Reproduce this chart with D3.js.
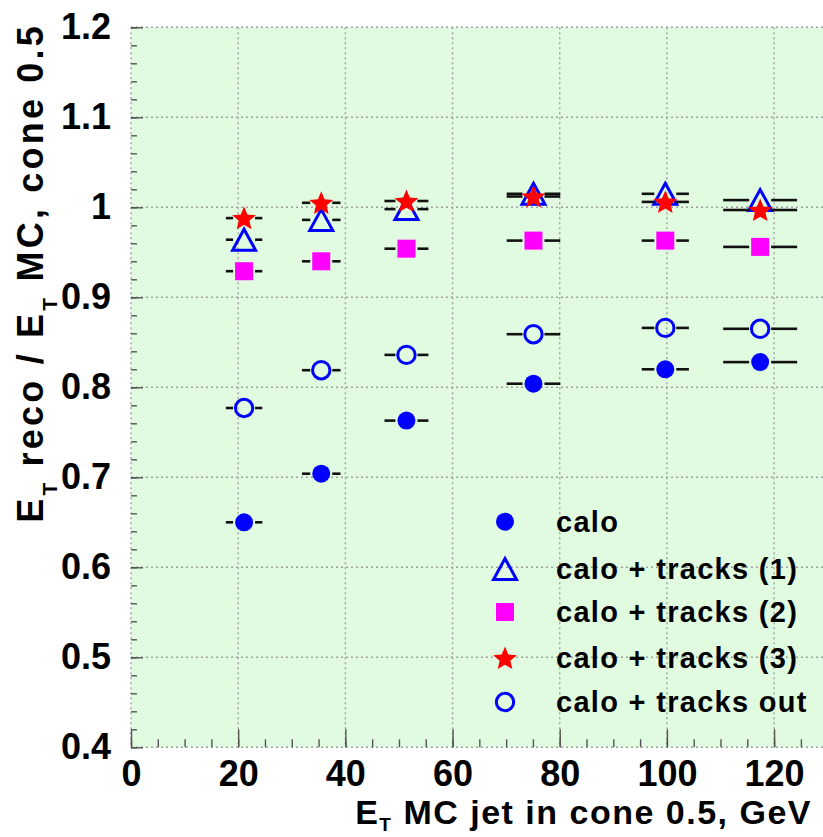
<!DOCTYPE html>
<html>
<head>
<meta charset="utf-8">
<script src="https://cdn.jsdelivr.net/npm/d3@7"></script>
<style>
  body { margin: 0; background: #fff; }
  svg { display: block; font-family: "Liberation Sans", Arial, sans-serif; font-weight: bold; }
</style>
</head>
<body>
<div id="chart"></div>
<script>
// jet energy bins (x centre and half width)
const etMC = [21.1, 35.5, 51.4, 75.1, 99.7, 117.4];
const etErr = [3.4, 3.6, 4.1, 5.0, 4.4, 6.9];

const calo = [0.650, 0.704, 0.763, 0.804, 0.820, 0.828];
const tracks1 = [0.964, 0.986, 0.998, 1.015, 1.015, 1.008];
const tracks2 = [0.929, 0.940, 0.954, 0.963, 0.963, 0.956];
const tracks3 = [0.988, 1.005, 1.007, 1.012, 1.006, 0.997];
const tracksOut = [0.777, 0.819, 0.836, 0.859, 0.866, 0.865];

const xTicks = [0, 20, 40, 60, 80, 100, 120];
const yTicks = [0.4, 0.5, 0.6, 0.7, 0.8, 0.9, 1.0, 1.1, 1.2];

const series = [
  { name: "calo", values: calo, marker: "circle" },
  { name: "calo + tracks (1)", values: tracks1, marker: "triangle" },
  { name: "calo + tracks (2)", values: tracks2, marker: "square" },
  { name: "calo + tracks (3)", values: tracks3, marker: "star" },
  { name: "calo + tracks out", values: tracksOut, marker: "opencircle" },
];

const width = 823, height = 837;
const mLeft = 131, mRight = 825, mTop = 27.3, mBottom = 747.3;

const x = d3.scaleLinear().domain([0, 129.5]).range([mLeft, mRight]);
const y = d3.scaleLinear().domain([0.4, 1.2]).range([mBottom, mTop]);

const svg = d3.select("#chart").append("svg")
  .attr("width", width).attr("height", height);

// plot background
svg.append("rect")
  .attr("x", mLeft).attr("y", mTop)
  .attr("width", mRight - mLeft).attr("height", mBottom - mTop)
  .attr("fill", "#e0fbe0");

// dotted grid + frame
const grid = svg.append("g")
  .attr("stroke", "#a0a0a0").attr("stroke-width", 1.4)
  .attr("stroke-dasharray", "2,3");
grid.selectAll(".gx").data(xTicks).enter().append("line")
  .attr("x1", d => x(d)).attr("x2", d => x(d))
  .attr("y1", mTop).attr("y2", mBottom);
grid.selectAll(".gy").data(yTicks).enter().append("line")
  .attr("x1", mLeft).attr("x2", mRight)
  .attr("y1", d => y(d)).attr("y2", d => y(d));

// minor ticks
const minorY = d3.range(0.4, 1.2001, 0.02);
const minorX = d3.range(0, 126, 5);

svg.append("g")
  .attr("transform", `translate(${mLeft},0)`)
  .call(d3.axisLeft(y).tickValues(minorY).tickSize(-6).tickFormat(""))
  .call(g => g.select(".domain").remove())
  .call(g => g.selectAll("line").attr("stroke", "#555").attr("stroke-width", 1.4));

svg.append("g")
  .attr("transform", `translate(0,${mBottom})`)
  .call(d3.axisBottom(x).tickValues(minorX).tickSize(-8).tickFormat(""))
  .call(g => g.select(".domain").remove())
  .call(g => g.selectAll("line").attr("stroke", "#555").attr("stroke-width", 1.4));

// major ticks + labels
svg.append("g")
  .attr("transform", `translate(${mLeft},0)`)
  .call(d3.axisLeft(y).tickValues(yTicks).tickSize(-12).tickPadding(20)
    .tickFormat(d => Math.abs(d - 1) < 1e-9 ? "1" : d3.format(".1f")(d)))
  .call(g => g.select(".domain").remove())
  .call(g => g.selectAll("line").attr("stroke", "#555").attr("stroke-width", 1.4))
  .call(g => g.selectAll("text").attr("fill", "#000")
    .style("font-size", "36px").style("font-weight", "bold")
    .style("font-family", "'Liberation Sans', Arial, sans-serif"));

svg.append("g")
  .attr("transform", `translate(0,${mBottom})`)
  .call(d3.axisBottom(x).tickValues(xTicks).tickSize(-18).tickPadding(13)
    .tickFormat(d3.format("d")))
  .call(g => g.select(".domain").remove())
  .call(g => g.selectAll("line").attr("stroke", "#555").attr("stroke-width", 1.4))
  .call(g => g.selectAll("text").attr("fill", "#000")
    .style("font-size", "36px").style("font-weight", "bold")
    .style("font-family", "'Liberation Sans', Arial, sans-serif"));

// marker shapes
function starPath(R) {
  const r = R * 0.45;
  const pts = [];
  for (let i = 0; i < 10; i++) {
    const a = -Math.PI / 2 + i * Math.PI / 5;
    const rad = i % 2 === 0 ? R : r;
    pts.push([rad * Math.cos(a), rad * Math.sin(a)]);
  }
  return "M" + pts.map(p => p.join(",")).join("L") + "Z";
}

function drawMarker(g, type, cx, cy) {
  if (type === "circle") {
    g.append("circle").attr("cx", cx).attr("cy", cy).attr("r", 9).attr("fill", "#0000ff");
  } else if (type === "opencircle") {
    g.append("circle").attr("cx", cx).attr("cy", cy).attr("r", 8.7)
      .attr("fill", "none").attr("stroke", "#0000ff").attr("stroke-width", 3);
  } else if (type === "square") {
    g.append("rect").attr("x", cx - 9).attr("y", cy - 9)
      .attr("width", 18).attr("height", 18).attr("fill", "#ff00ff");
  } else if (type === "triangle") {
    g.append("path")
      .attr("d", `M${cx},${cy - 10.5}L${cx + 11.5},${cy + 10.5}L${cx - 11.5},${cy + 10.5}Z`)
      .attr("fill", "none").attr("stroke", "#0000ff").attr("stroke-width", 3)
      .attr("stroke-linejoin", "miter");
  } else if (type === "star") {
    g.append("path").attr("d", starPath(12.5))
      .attr("transform", `translate(${cx},${cy + 1})`)
      .attr("fill", "#ff0000");
  }
}

// data: error bars with a gap around the marker, then the marker
const gap = 11;
const plot = svg.append("g");
series.forEach(s => {
  const g = plot.append("g");
  s.values.forEach((v, i) => {
    const cx = x(etMC[i]), cy = y(v);
    const x0 = x(etMC[i] - etErr[i]), x1 = x(etMC[i] + etErr[i]);
    g.append("line").attr("x1", x0).attr("x2", cx - gap)
      .attr("y1", cy).attr("y2", cy)
      .attr("stroke", "#111").attr("stroke-width", 2.6);
    g.append("line").attr("x1", cx + gap).attr("x2", x1)
      .attr("y1", cy).attr("y2", cy)
      .attr("stroke", "#111").attr("stroke-width", 2.6);
    drawMarker(g, s.marker, cx, cy);
  });
});

// legend
const legendY = [521.7, 569, 612, 658, 702];
const legend = svg.append("g");
series.forEach((s, i) => {
  drawMarker(legend, s.marker, 505, legendY[i]);
  legend.append("text")
    .attr("x", 556).attr("y", legendY[i])
    .attr("dy", "0.36em")
    .style("font-size", "29px")
    .style("letter-spacing", "1.3px")
    .text(s.name);
});

// axis titles
const xt = svg.append("text")
  .attr("x", 812).attr("y", 824)
  .attr("text-anchor", "end")
  .style("font-size", "34px")
  .style("letter-spacing", "1.5px");
xt.append("tspan").text("E");
xt.append("tspan").attr("dy", 7).style("font-size", "19px").text("T");
xt.append("tspan").attr("dy", -7).text(" MC jet in cone 0.5, GeV");

const yt = svg.append("text")
  .attr("transform", "translate(43,23) rotate(-90)")
  .attr("text-anchor", "end")
  .style("font-size", "36px")
  .style("letter-spacing", "3.2px");
yt.append("tspan").text("E");
yt.append("tspan").attr("dy", 14).style("font-size", "21px").text("T");
yt.append("tspan").attr("dy", -14).text(" reco / E");
yt.append("tspan").attr("dy", 14).style("font-size", "21px").text("T");
yt.append("tspan").attr("dy", -14).text(" MC, cone 0.5");
</script>
</body>
</html>
